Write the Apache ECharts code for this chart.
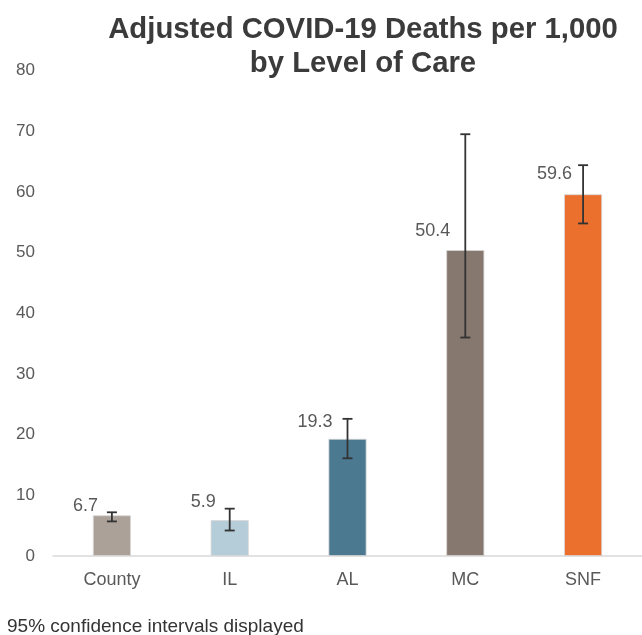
<!DOCTYPE html>
<html>
<head>
<meta charset="utf-8">
<script src="https://cdn.jsdelivr.net/npm/echarts@6/dist/echarts.min.js"></script>
<style>
html,body{margin:0;padding:0;background:#fff;}
#chart{width:642px;height:635px;}
</style>
</head>
<body>
<div id="chart"></div>
<script>
const categories = ['County', 'IL', 'AL', 'MC', 'SNF'];
const deaths = [6.7, 5.9, 19.3, 50.4, 59.6];
const ciLow = [5.7, 4.2, 16.1, 36.0, 54.8];
const ciHigh = [7.2, 7.8, 22.6, 69.5, 64.4];
const yTicks = [0, 10, 20, 30, 40, 50, 60, 70, 80];

const barColors = ['#ABA199', '#B5CDD9', '#4B7990', '#86776F', '#EB702E'];
const labelOffsets = [[-14, -9], [-14, -18], [-15, -17], [-15, -19], [-11, -20]];
const FONT = '"Liberation Sans", Arial, sans-serif';

const chart = echarts.init(document.getElementById('chart'), null, {renderer: 'canvas'});

const option = {
  animation: false,
  backgroundColor: '#ffffff',
  title: {
    text: 'Adjusted COVID-19 Deaths per 1,000\nby Level of Care',
    left: 358,
    top: 8,
    textAlign: 'center',
    textStyle: {
      fontFamily: FONT,
      fontWeight: 'bold',
      fontSize: 29.3,
      lineHeight: 34,
      color: '#3b3b3b'
    }
  },
  graphic: [{
    type: 'text',
    left: 7,
    top: 617,
    style: {
      text: '95% confidence intervals displayed',
      font: '19px ' + FONT,
      fill: '#333333'
    }
  }],
  grid: {left: 53, top: 70.5, width: 592, height: 485.5},
  xAxis: {
    type: 'category',
    data: categories,
    axisLine: {show: true, lineStyle: {color: '#D9D9D9', width: 1.5}},
    axisTick: {show: false},
    axisLabel: {fontFamily: FONT, fontSize: 18, color: '#595959', margin: 15}
  },
  yAxis: {
    type: 'value',
    min: yTicks[0],
    max: yTicks[yTicks.length - 1],
    interval: yTicks[1] - yTicks[0],
    splitLine: {show: false},
    axisLine: {show: false},
    axisTick: {show: false},
    axisLabel: {fontFamily: FONT, fontSize: 17, color: '#595959', margin: 18}
  },
  series: [{
    type: 'bar',
    barWidth: 38,
    data: deaths.map((v, i) => ({
      value: v,
      itemStyle: {color: barColors[i], borderColor: '#d6d6d6', borderWidth: 0.8},
      label: {offset: labelOffsets[i]}
    })),
    label: {
      show: true,
      position: 'top',
      distance: 0,
      align: 'right',
      verticalAlign: 'middle',
      fontFamily: FONT,
      fontSize: 18,
      color: '#595959',
      formatter: p => p.value.toFixed(1)
    }
  }, {
    type: 'custom',
    data: categories.map((c, i) => [i, ciLow[i], ciHigh[i]]),
    z: 10,
    renderItem: function (params, api) {
      const x = api.value(0);
      const lo = api.coord([x, api.value(1)]);
      const hi = api.coord([x, api.value(2)]);
      const half = 5;
      const style = {stroke: '#333333', lineWidth: 1.8};
      return {
        type: 'group',
        children: [
          {type: 'line', shape: {x1: lo[0], y1: lo[1], x2: hi[0], y2: hi[1]}, style: style},
          {type: 'line', shape: {x1: lo[0] - half, y1: lo[1], x2: lo[0] + half, y2: lo[1]}, style: style},
          {type: 'line', shape: {x1: hi[0] - half, y1: hi[1], x2: hi[0] + half, y2: hi[1]}, style: style}
        ]
      };
    }
  }]
};
chart.setOption(option);
</script>
</body>
</html>
